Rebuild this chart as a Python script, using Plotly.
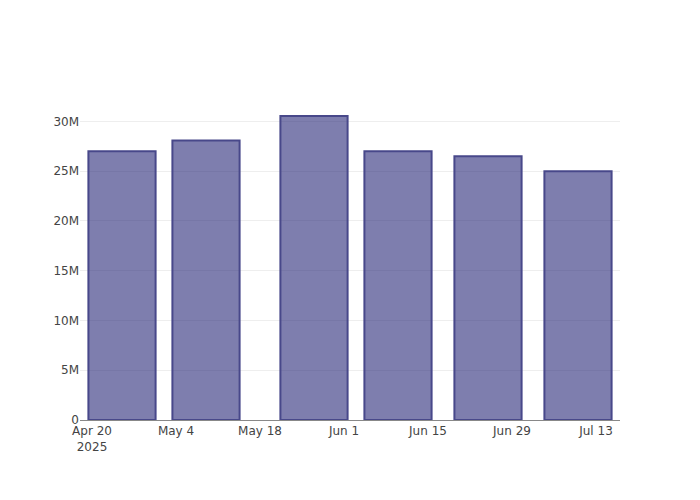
import plotly.graph_objects as go

dates = ["2025-04-25", "2025-05-09", "2025-05-27", "2025-06-10", "2025-06-25", "2025-07-10"]
values = [27.0e6, 28.1e6, 30.55e6, 27.0e6, 26.5e6, 25.0e6]

fig = go.Figure(
    go.Bar(
        x=dates,
        y=values,
        marker=dict(
            color="rgba(40,40,120,0.6)",
            line=dict(color="rgb(72,72,138)", width=2),
        ),
    )
)

fig.update_layout(
    template="none",
    width=684,
    height=484,
    plot_bgcolor="white",
    paper_bgcolor="white",
    font=dict(family="DejaVu Sans", size=12, color="#444"),
    margin=dict(l=72, r=72, t=92, b=72),
    showlegend=False,
)
fig.update_xaxes(
    type="date",
    range=["2025-04-18", "2025-07-17"],
    tick0="2025-04-20",
    dtick=14 * 86400000,
    showgrid=False,
    showline=True,
    linecolor="#888",
    linewidth=1,
    ticks="",
    zeroline=False,
)
fig.update_yaxes(
    showgrid=True,
    gridcolor="#eeeeee",
    gridwidth=1,
    zeroline=False,
    showline=False,
    ticks="",
    tickvals=[0, 5e6, 10e6, 15e6, 20e6, 25e6, 30e6],
    ticktext=["0", "5M", "10M", "15M", "20M", "25M", "30M"],
    rangemode="tozero",
)

fig.write_html("out.html")
